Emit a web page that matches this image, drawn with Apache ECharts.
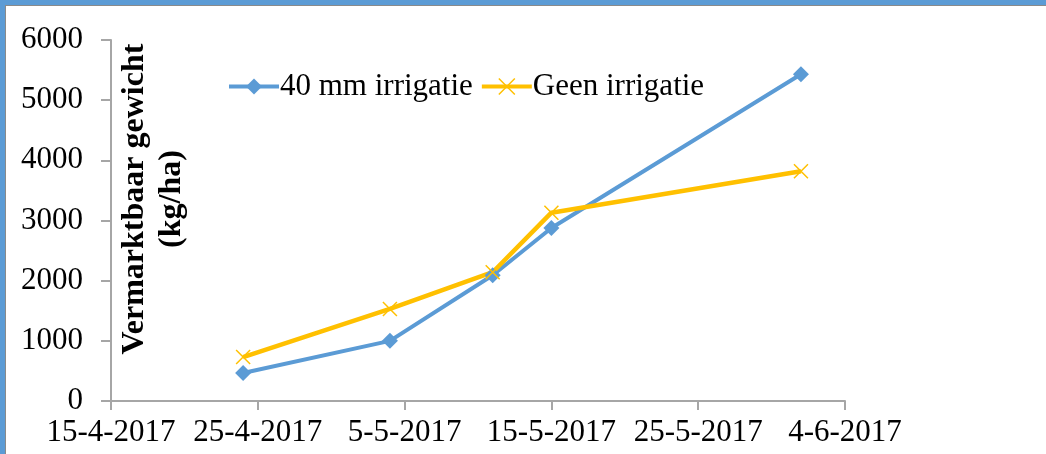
<!DOCTYPE html>
<html>
<head>
<meta charset="utf-8">
<script src="https://cdn.jsdelivr.net/npm/echarts@6/dist/echarts.min.js"></script>
<style>
  html, body { margin: 0; padding: 0; background: #fff; }
  #wrap { position: relative; width: 1046px; height: 454px; overflow: hidden; }
  #chart { width: 1046px; height: 454px; }
  #frame { position: absolute; left: 0; top: 0; width: 1046px; height: 454px; box-sizing: border-box;
           border-top: 5px solid #5B9BD5; border-left: 5px solid #5B9BD5; pointer-events: none; }
  #frame div { width: 100%; height: 100%; box-sizing: border-box; border-top: 1px solid #8a8a8a; border-left: 1px solid #8a8a8a; }
</style>
</head>
<body>
<div id="wrap">
  <div id="chart"></div>
  <div id="frame"><div></div></div>
</div>
<script>
// data
var startDate = '15-4-2017';
var dates = ['24-4-2017', '4-5-2017', '11-5-2017', '15-5-2017', '1-6-2017'];
var irrigated = [465, 1000, 2090, 2875, 5430];
var noIrrigation = [730, 1530, 2140, 3130, 3820];
var seriesNames = ['40 mm irrigatie', 'Geen irrigatie'];
var yTitle = 'Vermarktbaar gewicht\n(kg/ha)';

// datum "d-m-jjjj" -> dagen sinds start
function toDay(s) {
	var p = s.split('-');
	return Date.UTC(+p[2], +p[1] - 1, +p[0]) / 86400000;
}
var day0 = toDay(startDate);
function dayLabel(v) {
	var dt = new Date((day0 + v) * 86400000);
	return dt.getUTCDate() + '-' + (dt.getUTCMonth() + 1) + '-' + dt.getUTCFullYear();
}
function pairs(vals) {
	return dates.map(function (d, i) { return [toDay(d) - day0, vals[i]]; });
}

var font = 'Liberation Serif, Times New Roman, serif';
var axisGray = '#a6a6a6';
var blue = '#5B9BD5', yellow = '#FFC000';
var crossPath = 'path://M0,0 L10,10 M10,0 L0,10';

var chart = echarts.init(document.getElementById('chart'));
chart.setOption({
	animation: false,
	textStyle: { fontFamily: font },
	grid: { left: 111, right: 201, top: 40, bottom: 53, containLabel: false, outerBoundsMode: 'none' },
	legend: {
		left: 222, top: 66,
		itemWidth: 50, itemHeight: 20, itemGap: 7,
		textStyle: { fontFamily: font, fontSize: 31, color: '#000', padding: [0, 0, 0, -4] },
		data: [
			{ name: seriesNames[0], itemStyle: { color: blue }, lineStyle: { color: blue, width: 4 } },
			{ name: seriesNames[1], itemStyle: { color: 'none', borderColor: yellow, borderWidth: 1.5 }, lineStyle: { color: yellow, width: 4 } }
		]
	},
	// y-as titel, staat in het plotvlak
	graphic: [{
		type: 'text', x: 153, y: 199, rotation: Math.PI / 2,
		style: {
			text: yTitle, fill: '#000', font: 'bold 32px ' + font,
			lineHeight: 37, align: 'center', verticalAlign: 'middle'
		}
	}],
	xAxis: {
		type: 'value', min: 0, max: 50, interval: 10,
		axisLine: { lineStyle: { color: axisGray, width: 2 } },
		axisTick: { show: true, length: 9, lineStyle: { color: axisGray, width: 2 } },
		axisLabel: { color: '#000', fontSize: 31, fontFamily: font, margin: 16, formatter: dayLabel },
		splitLine: { show: false }
	},
	yAxis: {
		type: 'value', min: 0, max: 6000, interval: 1000,
		axisLine: { show: true, lineStyle: { color: axisGray, width: 2 } },
		axisTick: { show: true, length: 10, lineStyle: { color: axisGray, width: 2 } },
		axisLabel: { color: '#000', fontSize: 31, fontFamily: font, margin: 28, formatter: function (v) { return String(v); } },
		splitLine: { show: false }
	},
	series: [
		{
			name: seriesNames[0], type: 'line', data: pairs(irrigated),
			symbol: 'diamond', symbolSize: 16,
			itemStyle: { color: blue },
			lineStyle: { color: blue, width: 4 }
		},
		{
			name: seriesNames[1], type: 'line', data: pairs(noIrrigation),
			symbol: crossPath, symbolSize: 14,
			itemStyle: { color: 'none', borderColor: yellow, borderWidth: 1.5 },
			lineStyle: { color: yellow, width: 4.5 }
		}
	]
});
</script>
</body>
</html>
